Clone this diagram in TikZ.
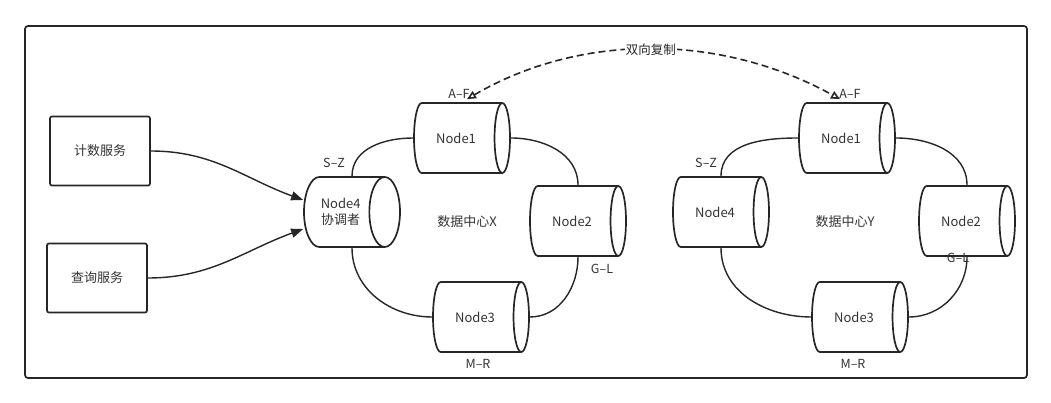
\documentclass[tikz,border=0pt]{standalone}
\usepackage{fontspec}
\setmainfont{Noto Sans CJK SC}
\usetikzlibrary{shapes,arrows.meta,positioning,calc}

\definecolor{ink}{HTML}{262626}
\definecolor{txt}{HTML}{333333}

\begin{document}
\begin{tikzpicture}[x=1pt, y=1pt, font=\fontsize{13}{16}\selectfont, text=txt,
  db/.style={draw=ink, cylinder, shape aspect=0.9, line width=1.7pt, minimum height=96pt, minimum width=70pt, align=center, anchor=shape center},
  svc/.style={draw=ink, rectangle, rounded corners=2pt, line width=1.7pt, minimum width=100pt, minimum height=69pt},
  ring/.style={draw=ink, line width=1.4pt},
  flow/.style={draw=ink, line width=1.4pt, -{Triangle[length=12pt, width=9pt]}},
  tag/.style={font=\fontsize{12.5}{15}\selectfont}]
\useasboundingbox (0,0) rectangle (1051,403);

% 外框
\draw[ink, line width=1.7pt, rounded corners=3pt] (25,25) rectangle (1027,377);

% 服务
\node[svc] (jsfw) at (100,252) {计数服务};
\node[svc] (cxfw) at (97,125) {查询服务};

% 数据中心X
\node[db] (lxn4) at (352,191) {Node4\\协调者};
\node[db] (lxn1) at (462,265) {Node1};
\node[db] (lxn2) at (578,182) {Node2};
\node[db] (lxn3) at (481,86) {Node3};
\node (lxname) at (467,181) {数据中心X};

\draw[ring] (lxn4.shape center |- lxn4.north) to[out=90, in=180] (lxn1.west);
\draw[ring] (lxn1.east) to[out=0, in=90] (lxn2.shape center |- lxn2.north);
\draw[ring] (lxn2.shape center |- lxn2.south) to[out=-90, in=0] (lxn3.east);
\draw[ring] (lxn3.west) to[out=180, in=-90] (lxn4.shape center |- lxn4.south);

\node[tag] (lxsz) at (334,240) {S–Z};
\node[tag] (lxaf) at (459,309) {A–F};
\node[tag] (lxgl) at (602,134) {G–L};
\node[tag] (lxmr) at (478,39) {M–R};

% 数据中心Y
\node[db] (ryn4) at (721,191) {Node4};
\node[db] (ryn1) at (847,265) {Node1};
\node[db] (ryn2) at (967,182) {Node2};
\node[db] (ryn3) at (860,86) {Node3};
\node (ryname) at (845,181) {数据中心Y};

\draw[ring] (ryn4.shape center |- ryn4.north) to[out=90, in=180] (ryn1.west);
\draw[ring] (ryn1.east) to[out=0, in=90] (ryn2.shape center |- ryn2.north);
\draw[ring] (ryn2.shape center |- ryn2.south) to[out=-90, in=0] (ryn3.east);
\draw[ring] (ryn3.west) to[out=180, in=-90] (ryn4.shape center |- ryn4.south);

\node[tag] (rysz) at (706,240) {S–Z};
\node[tag] (ryaf) at (850,309) {A–F};
\node[tag] (rygl) at (958,145) {G–L};
\node[tag] (rymr) at (853,39) {M–R};

% 请求
\draw[flow] (jsfw.east) to[out=0, in=160] ($(lxn4.west)+(0,12)$);
\draw[flow] (cxfw.east) to[out=0, in=200] ($(lxn4.west)+(0,-17)$);

% 双向复制
\draw[ink, line width=1.6pt, dash pattern=on 7pt off 4pt, {Triangle[open, length=9pt, width=8pt]}-{Triangle[open, length=9pt, width=8pt]}]
  ($(lxn1.shape center |- lxn1.north)+(5,3)$) .. controls (580,370) and (720,370) .. ($(ryn1.shape center |- ryn1.north)+(-7,3)$)
  node[pos=0.5, fill=white, inner sep=1pt, tag] (fz) {双向复制};
\end{tikzpicture}
\end{document}
